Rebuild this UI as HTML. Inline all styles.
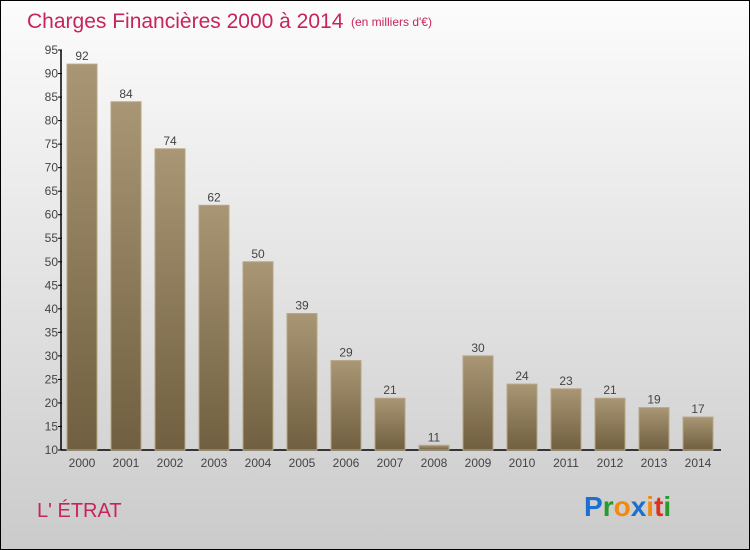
<!DOCTYPE html>
<html><head><meta charset="utf-8"><style>
body{margin:0;}
#wrap{position:relative;width:748px;height:548px;border:1px solid #000;background:linear-gradient(#fcfcfc,#e6e6e6 45%,#cbcbcb);font-family:"Liberation Sans",sans-serif;overflow:hidden}
</style></head><body>
<div id="wrap">
<svg id="chart" width="748" height="548">
<defs><linearGradient id="bg" x1="0" y1="0" x2="0" y2="1"><stop offset="0" stop-color="#a89674"/><stop offset="1" stop-color="#705f40"/></linearGradient></defs>
<text x="26" y="27" font-size="21" fill="#c8245a">Charges Financières 2000 à 2014</text>
<text x="350" y="25" font-size="12" fill="#c8245a">(en milliers d'€)</text>
<text x="36" y="516" font-size="20" fill="#c8245a">L' ÉTRAT</text>
<g font-size="28" font-family="'Liberation Sans',sans-serif" font-weight="bold">
<text x="583" y="515"><tspan fill="#1a6fd0">P</tspan><tspan fill="#2a9a2a">r</tspan><tspan fill="#f28a10">o</tspan><tspan fill="#1a6fd0">x</tspan><tspan fill="#f28a10">i</tspan><tspan fill="#e03020">t</tspan><tspan fill="#2a9a2a">i</tspan></text></g>
<g id="plot"></g>
</svg></div>
<script>
const categories=["2000","2001","2002","2003","2004","2005","2006","2007","2008","2009","2010","2011","2012","2013","2014"];
const values=[92,84,74,62,50,39,29,21,11,30,24,23,21,19,17];
const yTicks=[10,15,20,25,30,35,40,45,50,55,60,65,70,75,80,85,90,95];
const NS="http://www.w3.org/2000/svg";
const g=document.getElementById('plot');
const y=v=>449-(v-10)*400/85;
const x=i=>66+i*44;
function mk(t,a){const e=document.createElementNS(NS,t);for(const k in a)e.setAttribute(k,a[k]);g.appendChild(e);return e;}
const ax=mk('line',{x1:60,y1:49,x2:60,y2:449,stroke:'#000','stroke-width':1.5});


const bx=mk('line',{x1:60,y1:449,x2:720,y2:449,stroke:'#000','stroke-width':1.5});


yTicks.forEach(v=>{
 mk('line',{x1:57,x2:61,y1:y(v),y2:y(v),stroke:'#000'});
 const t=mk('text',{x:57,y:y(v)+4,'text-anchor':'end','font-size':12,fill:'#444'});t.textContent=v;
 
 
});
categories.forEach((c,i)=>{
 const b=mk('rect',{x:x(i),y:y(values[i]),width:30,height:449-y(values[i]),fill:'url(#bg)',stroke:'#b8a583','stroke-width':1});
 
 
 const l=mk('text',{x:x(i)+15,y:y(values[i])-4,'text-anchor':'middle','font-size':12,fill:'#444'});l.textContent=values[i];
 
 
 const t=mk('text',{x:x(i)+15,y:466,'text-anchor':'middle','font-size':12,fill:'#444'});t.textContent=c;
 
 
});
</script>
</body></html>
